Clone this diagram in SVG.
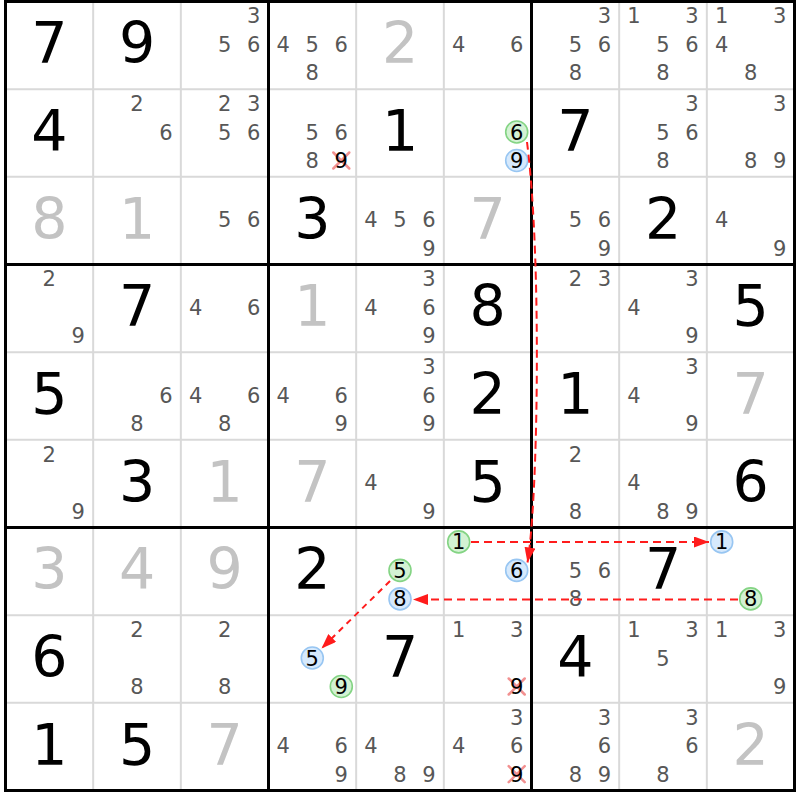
<svg xmlns="http://www.w3.org/2000/svg" width="800" height="800" viewBox="0 0 800 800">
<defs>
<style>
text{font-family:"DejaVu Sans",Verdana,sans-serif;text-anchor:middle}
.b{font-size:57px;fill:#000}
.g{font-size:57px;fill:#c3c3c3}
.c{font-size:21px;fill:#575757}
.k{font-size:21px;fill:#000}
.on{fill:#d3f2d3;stroke:#84d484;stroke-width:1.6}
.off{fill:#d6e9fc;stroke:#98c6f2;stroke-width:1.6}
.x{stroke:#f29090;stroke-width:2.5;stroke-linecap:round}
.thin{stroke:#d9d9d9;stroke-width:2;fill:none}
.thick{stroke:#000;stroke-width:3;fill:none}
.link{stroke:#ff1c1c;stroke-width:2;fill:none;stroke-dasharray:8 5;marker-end:url(#ah)}
</style>
<marker id="ah" markerUnits="userSpaceOnUse" markerWidth="15" markerHeight="11" refX="15" refY="5.5" orient="auto">
<path d="M0,0 L15,5.5 L0,11 z" fill="#ff1c1c"/>
</marker>
</defs>
<rect width="800" height="800" fill="#fff"/>
<g id="grid">
<path class="thin" d="M93.17,1.5V790.5M180.83,1.5V790.5M356.17,1.5V790.5M443.83,1.5V790.5M619.17,1.5V790.5M706.83,1.5V790.5M5.5,89.17H794.5M5.5,176.83H794.5M5.5,352.17H794.5M5.5,439.83H794.5M5.5,615.17H794.5M5.5,702.83H794.5"/>
<path class="thick" d="M268.5,1.5V790.5M531.5,1.5V790.5M5.5,264.5H794.5M5.5,527.5H794.5"/>
<rect class="thick" x="5.5" y="1.5" width="789" height="789"/>
</g>
<g id="cells">
<g id="r0c0" transform="translate(49.3,45.3)"><text class="b" y="18">7</text></g>
<g id="r0c1" transform="translate(137,45.3)"><text class="b" y="18">9</text></g>
<g id="r0c2" transform="translate(224.7,45.3)"><text class="c" x="29" y="-22">3</text><text class="c" x="0" y="6.5">5</text><text class="c" x="29" y="6.5">6</text></g>
<g id="r0c3" transform="translate(312.3,45.3)"><text class="c" x="-29" y="6.5">4</text><text class="c" x="0" y="6.5">5</text><text class="c" x="29" y="6.5">6</text><text class="c" x="0" y="35">8</text></g>
<g id="r0c4" transform="translate(400,45.3)"><text class="g" y="18">2</text></g>
<g id="r0c5" transform="translate(487.7,45.3)"><text class="c" x="-29" y="6.5">4</text><text class="c" x="29" y="6.5">6</text></g>
<g id="r0c6" transform="translate(575.4,45.3)"><text class="c" x="29" y="-22">3</text><text class="c" x="0" y="6.5">5</text><text class="c" x="29" y="6.5">6</text><text class="c" x="0" y="35">8</text></g>
<g id="r0c7" transform="translate(663,45.3)"><text class="c" x="-29" y="-22">1</text><text class="c" x="29" y="-22">3</text><text class="c" x="0" y="6.5">5</text><text class="c" x="29" y="6.5">6</text><text class="c" x="0" y="35">8</text></g>
<g id="r0c8" transform="translate(750.7,45.3)"><text class="c" x="-29" y="-22">1</text><text class="c" x="29" y="-22">3</text><text class="c" x="-29" y="6.5">4</text><text class="c" x="0" y="35">8</text></g>

<g id="r1c0" transform="translate(49.3,133)"><text class="b" y="18">4</text></g>
<g id="r1c1" transform="translate(137,133)"><text class="c" x="0" y="-22">2</text><text class="c" x="29" y="6.5">6</text></g>
<g id="r1c2" transform="translate(224.7,133)"><text class="c" x="0" y="-22">2</text><text class="c" x="29" y="-22">3</text><text class="c" x="0" y="6.5">5</text><text class="c" x="29" y="6.5">6</text></g>
<g id="r1c3" transform="translate(312.3,133)"><text class="c" x="0" y="6.5">5</text><text class="c" x="29" y="6.5">6</text><text class="c" x="0" y="35">8</text><path class="x" d="M21,19.5L37,35.5M37,19.5L21,35.5"/><text class="k" x="29" y="35">9</text></g>
<g id="r1c4" transform="translate(400,133)"><text class="b" y="18">1</text></g>
<g id="r1c5" transform="translate(487.7,133)"><circle class="on" cx="29" cy="-1" r="11"/><text class="k" x="29" y="6.5">6</text><circle class="off" cx="29" cy="27.5" r="11"/><text class="k" x="29" y="35">9</text></g>
<g id="r1c6" transform="translate(575.4,133)"><text class="b" y="18">7</text></g>
<g id="r1c7" transform="translate(663,133)"><text class="c" x="29" y="-22">3</text><text class="c" x="0" y="6.5">5</text><text class="c" x="29" y="6.5">6</text><text class="c" x="0" y="35">8</text></g>
<g id="r1c8" transform="translate(750.7,133)"><text class="c" x="29" y="-22">3</text><text class="c" x="0" y="35">8</text><text class="c" x="29" y="35">9</text></g>

<g id="r2c0" transform="translate(49.3,220.7)"><text class="g" y="18">8</text></g>
<g id="r2c1" transform="translate(137,220.7)"><text class="g" y="18">1</text></g>
<g id="r2c2" transform="translate(224.7,220.7)"><text class="c" x="0" y="6.5">5</text><text class="c" x="29" y="6.5">6</text></g>
<g id="r2c3" transform="translate(312.3,220.7)"><text class="b" y="18">3</text></g>
<g id="r2c4" transform="translate(400,220.7)"><text class="c" x="-29" y="6.5">4</text><text class="c" x="0" y="6.5">5</text><text class="c" x="29" y="6.5">6</text><text class="c" x="29" y="35">9</text></g>
<g id="r2c5" transform="translate(487.7,220.7)"><text class="g" y="18">7</text></g>
<g id="r2c6" transform="translate(575.4,220.7)"><text class="c" x="0" y="6.5">5</text><text class="c" x="29" y="6.5">6</text><text class="c" x="29" y="35">9</text></g>
<g id="r2c7" transform="translate(663,220.7)"><text class="b" y="18">2</text></g>
<g id="r2c8" transform="translate(750.7,220.7)"><text class="c" x="-29" y="6.5">4</text><text class="c" x="29" y="35">9</text></g>

<g id="r3c0" transform="translate(49.3,308.3)"><text class="c" x="0" y="-22">2</text><text class="c" x="29" y="35">9</text></g>
<g id="r3c1" transform="translate(137,308.3)"><text class="b" y="18">7</text></g>
<g id="r3c2" transform="translate(224.7,308.3)"><text class="c" x="-29" y="6.5">4</text><text class="c" x="29" y="6.5">6</text></g>
<g id="r3c3" transform="translate(312.3,308.3)"><text class="g" y="18">1</text></g>
<g id="r3c4" transform="translate(400,308.3)"><text class="c" x="29" y="-22">3</text><text class="c" x="-29" y="6.5">4</text><text class="c" x="29" y="6.5">6</text><text class="c" x="29" y="35">9</text></g>
<g id="r3c5" transform="translate(487.7,308.3)"><text class="b" y="18">8</text></g>
<g id="r3c6" transform="translate(575.4,308.3)"><text class="c" x="0" y="-22">2</text><text class="c" x="29" y="-22">3</text></g>
<g id="r3c7" transform="translate(663,308.3)"><text class="c" x="29" y="-22">3</text><text class="c" x="-29" y="6.5">4</text><text class="c" x="29" y="35">9</text></g>
<g id="r3c8" transform="translate(750.7,308.3)"><text class="b" y="18">5</text></g>

<g id="r4c0" transform="translate(49.3,396)"><text class="b" y="18">5</text></g>
<g id="r4c1" transform="translate(137,396)"><text class="c" x="29" y="6.5">6</text><text class="c" x="0" y="35">8</text></g>
<g id="r4c2" transform="translate(224.7,396)"><text class="c" x="-29" y="6.5">4</text><text class="c" x="29" y="6.5">6</text><text class="c" x="0" y="35">8</text></g>
<g id="r4c3" transform="translate(312.3,396)"><text class="c" x="-29" y="6.5">4</text><text class="c" x="29" y="6.5">6</text><text class="c" x="29" y="35">9</text></g>
<g id="r4c4" transform="translate(400,396)"><text class="c" x="29" y="-22">3</text><text class="c" x="29" y="6.5">6</text><text class="c" x="29" y="35">9</text></g>
<g id="r4c5" transform="translate(487.7,396)"><text class="b" y="18">2</text></g>
<g id="r4c6" transform="translate(575.4,396)"><text class="b" y="18">1</text></g>
<g id="r4c7" transform="translate(663,396)"><text class="c" x="29" y="-22">3</text><text class="c" x="-29" y="6.5">4</text><text class="c" x="29" y="35">9</text></g>
<g id="r4c8" transform="translate(750.7,396)"><text class="g" y="18">7</text></g>

<g id="r5c0" transform="translate(49.3,483.7)"><text class="c" x="0" y="-22">2</text><text class="c" x="29" y="35">9</text></g>
<g id="r5c1" transform="translate(137,483.7)"><text class="b" y="18">3</text></g>
<g id="r5c2" transform="translate(224.7,483.7)"><text class="g" y="18">1</text></g>
<g id="r5c3" transform="translate(312.3,483.7)"><text class="g" y="18">7</text></g>
<g id="r5c4" transform="translate(400,483.7)"><text class="c" x="-29" y="6.5">4</text><text class="c" x="29" y="35">9</text></g>
<g id="r5c5" transform="translate(487.7,483.7)"><text class="b" y="18">5</text></g>
<g id="r5c6" transform="translate(575.4,483.7)"><text class="c" x="0" y="-22">2</text><text class="c" x="0" y="35">8</text></g>
<g id="r5c7" transform="translate(663,483.7)"><text class="c" x="-29" y="6.5">4</text><text class="c" x="0" y="35">8</text><text class="c" x="29" y="35">9</text></g>
<g id="r5c8" transform="translate(750.7,483.7)"><text class="b" y="18">6</text></g>

<g id="r6c0" transform="translate(49.3,571.4)"><text class="g" y="18">3</text></g>
<g id="r6c1" transform="translate(137,571.4)"><text class="g" y="18">4</text></g>
<g id="r6c2" transform="translate(224.7,571.4)"><text class="g" y="18">9</text></g>
<g id="r6c3" transform="translate(312.3,571.4)"><text class="b" y="18">2</text></g>
<g id="r6c4" transform="translate(400,571.4)"><circle class="on" cx="0" cy="-1" r="11"/><text class="k" x="0" y="6.5">5</text><circle class="off" cx="0" cy="27.5" r="11"/><text class="k" x="0" y="35">8</text></g>
<g id="r6c5" transform="translate(487.7,571.4)"><circle class="on" cx="-29" cy="-29.5" r="11"/><text class="k" x="-29" y="-22">1</text><circle class="off" cx="29" cy="-1" r="11"/><text class="k" x="29" y="6.5">6</text></g>
<g id="r6c6" transform="translate(575.4,571.4)"><text class="c" x="0" y="6.5">5</text><text class="c" x="29" y="6.5">6</text><text class="c" x="0" y="35">8</text></g>
<g id="r6c7" transform="translate(663,571.4)"><text class="b" y="18">7</text></g>
<g id="r6c8" transform="translate(750.7,571.4)"><circle class="off" cx="-29" cy="-29.5" r="11"/><text class="k" x="-29" y="-22">1</text><circle class="on" cx="0" cy="27.5" r="11"/><text class="k" x="0" y="35">8</text></g>

<g id="r7c0" transform="translate(49.3,659)"><text class="b" y="18">6</text></g>
<g id="r7c1" transform="translate(137,659)"><text class="c" x="0" y="-22">2</text><text class="c" x="0" y="35">8</text></g>
<g id="r7c2" transform="translate(224.7,659)"><text class="c" x="0" y="-22">2</text><text class="c" x="0" y="35">8</text></g>
<g id="r7c3" transform="translate(312.3,659)"><circle class="off" cx="0" cy="-1" r="11"/><text class="k" x="0" y="6.5">5</text><circle class="on" cx="29" cy="27.5" r="11"/><text class="k" x="29" y="35">9</text></g>
<g id="r7c4" transform="translate(400,659)"><text class="b" y="18">7</text></g>
<g id="r7c5" transform="translate(487.7,659)"><text class="c" x="-29" y="-22">1</text><text class="c" x="29" y="-22">3</text><path class="x" d="M21,19.5L37,35.5M37,19.5L21,35.5"/><text class="k" x="29" y="35">9</text></g>
<g id="r7c6" transform="translate(575.4,659)"><text class="b" y="18">4</text></g>
<g id="r7c7" transform="translate(663,659)"><text class="c" x="-29" y="-22">1</text><text class="c" x="29" y="-22">3</text><text class="c" x="0" y="6.5">5</text></g>
<g id="r7c8" transform="translate(750.7,659)"><text class="c" x="-29" y="-22">1</text><text class="c" x="29" y="-22">3</text><text class="c" x="29" y="35">9</text></g>

<g id="r8c0" transform="translate(49.3,746.7)"><text class="b" y="18">1</text></g>
<g id="r8c1" transform="translate(137,746.7)"><text class="b" y="18">5</text></g>
<g id="r8c2" transform="translate(224.7,746.7)"><text class="g" y="18">7</text></g>
<g id="r8c3" transform="translate(312.3,746.7)"><text class="c" x="-29" y="6.5">4</text><text class="c" x="29" y="6.5">6</text><text class="c" x="29" y="35">9</text></g>
<g id="r8c4" transform="translate(400,746.7)"><text class="c" x="-29" y="6.5">4</text><text class="c" x="0" y="35">8</text><text class="c" x="29" y="35">9</text></g>
<g id="r8c5" transform="translate(487.7,746.7)"><text class="c" x="29" y="-22">3</text><text class="c" x="-29" y="6.5">4</text><text class="c" x="29" y="6.5">6</text><path class="x" d="M21,19.5L37,35.5M37,19.5L21,35.5"/><text class="k" x="29" y="35">9</text></g>
<g id="r8c6" transform="translate(575.4,746.7)"><text class="c" x="29" y="-22">3</text><text class="c" x="29" y="6.5">6</text><text class="c" x="0" y="35">8</text><text class="c" x="29" y="35">9</text></g>
<g id="r8c7" transform="translate(663,746.7)"><text class="c" x="29" y="-22">3</text><text class="c" x="29" y="6.5">6</text><text class="c" x="0" y="35">8</text></g>
<g id="r8c8" transform="translate(750.7,746.7)"><text class="g" y="18">2</text></g>
</g>
<g id="connectors">
<path class="link" d="M527,142 C542,260 538,500 527.5,562.5"/>
<path class="link" d="M471,542 H709"/>
<path class="link" d="M738,599.5 H413"/>
<path class="link" style="stroke-dasharray:6 5" d="M390,581 L321.5,648.5"/>
</g>
</svg>
